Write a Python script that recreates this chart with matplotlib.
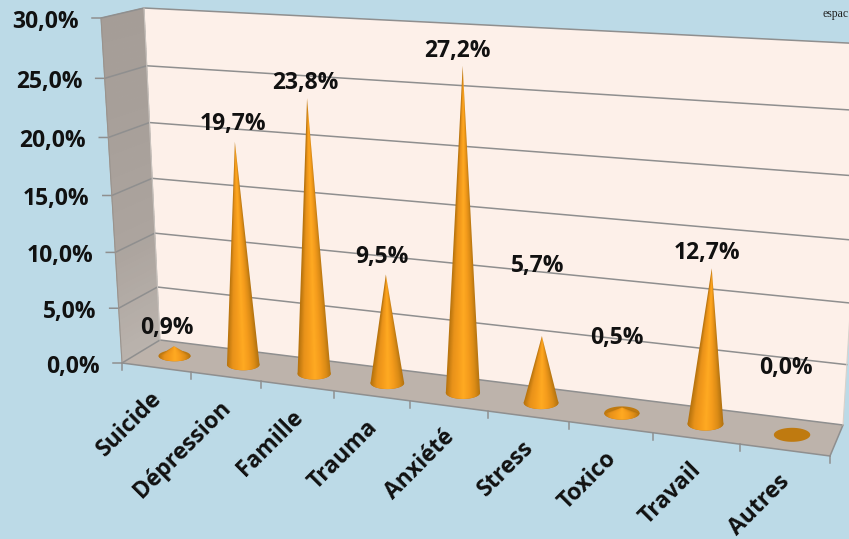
import numpy as np
import matplotlib
matplotlib.use('Agg')
import matplotlib.pyplot as plt
from matplotlib.colors import LinearSegmentedColormap
from matplotlib.patches import Polygon

categories = ['Suicide', 'Dépression', 'Famille', 'Trauma', 'Anxiété', 'Stress', 'Toxico', 'Travail', 'Autres']
values = [0.9, 19.7, 23.8, 9.5, 27.2, 5.7, 0.5, 12.7, 0.0]
value_labels = ['0,9%', '19,7%', '23,8%', '9,5%', '27,2%', '5,7%', '0,5%', '12,7%', '0,0%']
y_ticks = [0, 5, 10, 15, 20, 25, 30]
y_tick_labels = ['0,0%', '5,0%', '10,0%', '15,0%', '20,0%', '25,0%', '30,0%']

# where each label sits relative to the cone tip, in pixels
label_offsets = [(-7, -18), (-2, -18), (-2, -15), (-4, -17), (-5, -15), (-4, -70), (-5, -69), (-5, -15), (-6, -67)]

BG = '#bcdae7'
WALL = '#fdf0e9'
FLOOR = '#bdb3ab'
GRID = '#8f8f8f'
TEXT = '#111111'
FONT = ['Open Sans', 'DejaVu Sans']

cone_cmap = LinearSegmentedColormap.from_list(
    'cone', ['#b8740e', '#e8921a', '#f59c1c', '#ffaa22', '#f59c1c', '#dc8c16', '#ae7010'])
side_cmap = LinearSegmentedColormap.from_list('side', ['#a59d97', '#a8a09a', '#aca49e', '#bab3ad'])


def homography(corners):
    # unit square to pixel quad, corners order (0,0) (1,0) (1,1) (0,1)
    src = [(0, 0), (1, 0), (1, 1), (0, 1)]
    A, b = [], []
    for (s, t), (x, y) in zip(src, corners):
        A.append([s, t, 1, 0, 0, 0, -s * x, -t * x])
        A.append([0, 0, 0, s, t, 1, -s * y, -t * y])
        b += [x, y]
    h = np.linalg.solve(np.array(A, float), np.array(b, float))
    return np.append(h, 1).reshape(3, 3)


H_back = homography([(160, 340), (843, 425), (867, 44), (144, 8)])
H_front = homography([(122, 363), (830, 456), (855, 56), (101, 18)])


def project(cat, val, depth):
    # cat in 0..9, val in 0..30, depth 0 = back wall, 1 = front edge
    p = np.array([cat / len(categories), val / 30.0, 1.0])
    b = H_back @ p
    f = H_front @ p
    b = b[:2] / b[2]
    f = f[:2] / f[2]
    return b + (f - b) * depth


def draw_cone(ax, i, val):
    base = project(i + 0.5, 0, 0.5)
    tip = project(i + 0.5, val, 0.5)
    rx = 16 + 2.2 * i / 8
    ry = 5.5 + 1.5 * i / 8
    t = np.linspace(0, 2 * np.pi, 80)
    ax.fill(base[0] + rx * np.cos(t), base[1] + ry * np.sin(t), color='#bf7a10', lw=0, zorder=4)
    if val <= 0:
        return tip

    # outline: tip plus the front half of the base
    th = np.linspace(np.pi, 0, 50)
    outline = [tip] + [(base[0] + rx * np.cos(a), base[1] + ry * np.sin(a)) for a in th]
    clip = Polygon(outline, closed=True, transform=ax.transData, fc='none', ec='none')
    ax.add_patch(clip)

    # shade by position across the cone, row by row
    x0, x1 = base[0] - rx - 1, base[0] + rx + 1
    y0, y1 = tip[1] - 1, base[1] + ry + 1
    xs = np.linspace(x0, x1, int(x1 - x0) * 3)
    ys = np.linspace(y0, y1, max(int(y1 - y0) * 3, 6))
    gx, gy = np.meshgrid(xs, ys)
    frac = np.clip((gy - tip[1]) / max(base[1] - tip[1], 1), 0.002, 1)
    mid = tip[0] + (base[0] - tip[0]) * frac
    rel = np.clip((gx - mid) / (rx * frac) * 0.5 + 0.5, 0, 1)
    im = ax.imshow(cone_cmap(rel), extent=(x0, x1, y1, y0), origin='upper', aspect='auto',
                   interpolation='bilinear', zorder=5)
    im.set_clip_path(clip)
    return tip


fig = plt.figure(figsize=(8.49, 5.39), dpi=100, facecolor=BG)
ax = fig.add_axes([0, 0, 1, 1])
ax.set_axis_off()

# back wall, floor, side wall
n = len(categories)
wall = [project(0, 0, 0), project(n, 0, 0), project(n, 30, 0), project(0, 30, 0)]
ax.fill(*zip(*wall), color=WALL, lw=0, zorder=1)
floor = [project(0, 0, 0), project(n, 0, 0), project(n, 0, 1), project(0, 0, 1)]
ax.fill(*zip(*floor), color=FLOOR, lw=0, zorder=2)

for k in range(60):
    v0, v1 = k * 0.5, (k + 1) * 0.5
    quad = [project(0, v0, 0), project(0, v1, 0), project(0, v1, 1), project(0, v0, 1)]
    col = side_cmap(1 - k / 59)
    ax.fill(*zip(*quad), facecolor=col, edgecolor=col, lw=0.6, zorder=2)

# grid lines on wall and side, y ticks and labels
for v, lab in zip(y_ticks, y_tick_labels):
    a, b, c = project(n, v, 0), project(0, v, 0), project(0, v, 1)
    ax.plot([a[0], b[0], c[0], c[0] - 9], [a[1], b[1], c[1], c[1]], color=GRID, lw=1.1, zorder=3)
    ax.text(c[0] - 22, c[1] + 4, lab, ha='right', va='center', fontsize=16.5, fontweight='bold',
            family=FONT, color=TEXT, zorder=8)

# floor edges and x ticks
for pair in [(project(0, 0, 1), project(n, 0, 1)), (project(n, 0, 0), project(n, 0, 1))]:
    ax.plot(*zip(*pair), color=GRID, lw=1.1, zorder=3)
ax.plot(*zip(project(n, 0, 0), project(n, 30, 0)), color='#d8d2cc', lw=0.8, zorder=3)
ax.plot(*zip(project(0, 0, 0), project(0, 30, 0)), color='#c9c3be', lw=0.8, zorder=3)
ax.plot(*zip(project(0, 30, 1), project(0, 0, 1)), color='#9a938d', lw=0.8, zorder=3)
for i in range(n + 1):
    p = project(i, 0, 1)
    ax.plot([p[0], p[0]], [p[1], p[1] + 7], color=GRID, lw=1.1, zorder=3)

for i, name in enumerate(categories):
    p = project(i + 0.5, 0, 1)
    ax.text(p[0] + 2, p[1] + 28, name, rotation=45, rotation_mode='anchor', ha='right', va='center',
            fontsize=16.5, fontweight='bold', family=FONT, color=TEXT, zorder=8)

for i, (val, lab, off) in enumerate(zip(values, value_labels, label_offsets)):
    tip = draw_cone(ax, i, val)
    ax.text(tip[0] + off[0], tip[1] + off[1], lab, ha='center', va='center', fontsize=16.5,
            fontweight='bold', family=FONT, color=TEXT, zorder=9)

ax.text(848.5, 14, 'espac', ha='right', va='center', fontsize=8.5, family='Liberation Serif', color='#222222', zorder=9)

ax.set_xlim(0, 849)
ax.set_ylim(539, 0)
fig.savefig('out.png', dpi=100, facecolor=BG)
